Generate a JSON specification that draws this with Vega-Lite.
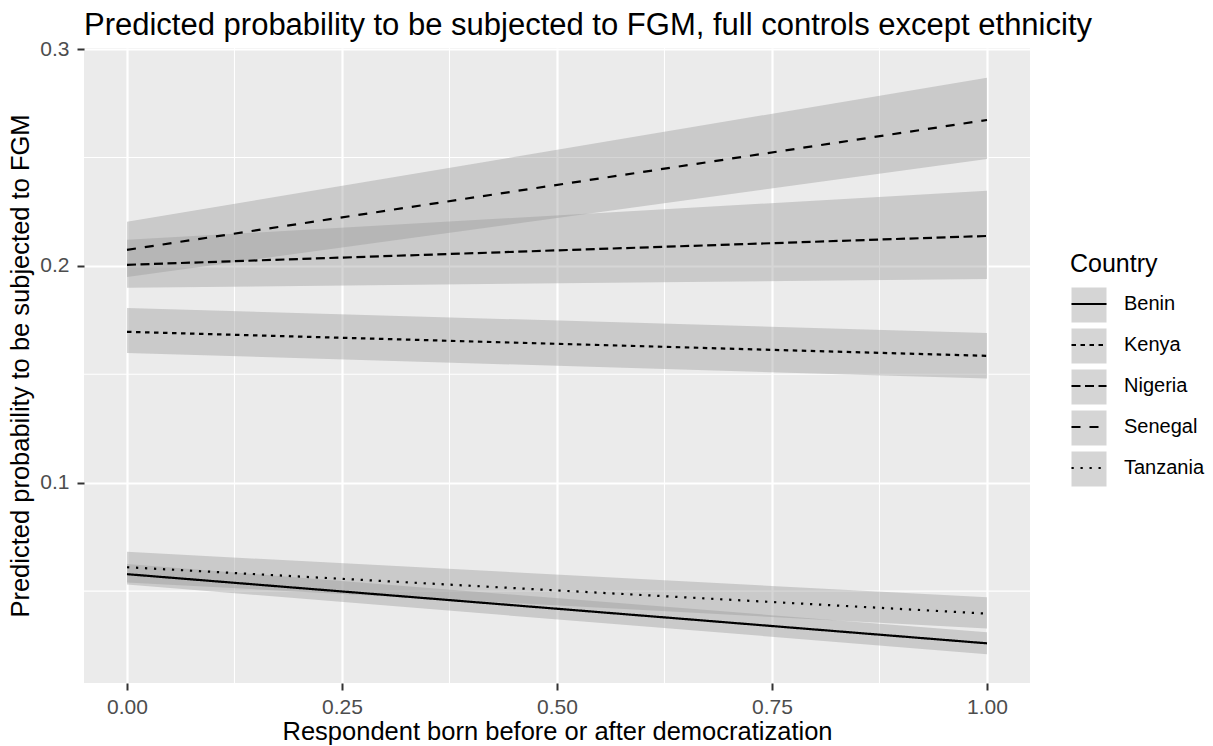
{
  "$schema": "https://vega.github.io/schema/vega-lite/v6.json",
  "width": 946,
  "height": 635,
  "autosize": "none",
  "padding": {"left": 84, "top": 48, "right": 183, "bottom": 63},
  "background": "white",
  "title": {
    "text": "Predicted probability to be subjected to FGM, full controls except ethnicity",
    "anchor": "start",
    "frame": "group",
    "fontSize": 31,
    "font": "Liberation Sans",
    "fontWeight": "normal",
    "color": "black",
    "baseline": "alphabetic",
    "offset": 0,
    "dy": 28
  },
  "datasets": {
    "bands": [
      {"Country": "Benin", "born": 0, "fit": 0.0578, "lo": 0.0530, "hi": 0.0625},
      {"Country": "Benin", "born": 1, "fit": 0.0259, "lo": 0.0209, "hi": 0.0310},
      {"Country": "Kenya", "born": 0, "fit": 0.1696, "lo": 0.1598, "hi": 0.1806},
      {"Country": "Kenya", "born": 1, "fit": 0.1585, "lo": 0.1480, "hi": 0.1690},
      {"Country": "Nigeria", "born": 0, "fit": 0.2005, "lo": 0.1899, "hi": 0.2120},
      {"Country": "Nigeria", "born": 1, "fit": 0.2138, "lo": 0.1940, "hi": 0.2346},
      {"Country": "Senegal", "born": 0, "fit": 0.2074, "lo": 0.1949, "hi": 0.2203},
      {"Country": "Senegal", "born": 1, "fit": 0.2673, "lo": 0.2493, "hi": 0.2868},
      {"Country": "Tanzania", "born": 0, "fit": 0.0610, "lo": 0.0540, "hi": 0.0681},
      {"Country": "Tanzania", "born": 1, "fit": 0.0396, "lo": 0.0327, "hi": 0.0471}
    ],
    "minorx": [{"v": 0.125}, {"v": 0.375}, {"v": 0.625}, {"v": 0.875}],
    "minory": [{"v": 0.05}, {"v": 0.15}, {"v": 0.25}]
  },
  "layer": [
    {
      "data": {"name": "minorx"},
      "mark": {"type": "rule", "stroke": "white", "strokeWidth": 1.1},
      "encoding": {
        "x": {
          "field": "v", "type": "quantitative",
          "scale": {"domain": [-0.05, 1.05], "nice": false, "zero": false},
          "axis": {"values": [0, 0.25, 0.5, 0.75, 1], "format": ".2f", "labelPadding": 6, "titlePadding": 2, "title": "Respondent born before or after democratization", "labelFlush": false}
        }
      }
    },
    {
      "data": {"name": "minory"},
      "mark": {"type": "rule", "stroke": "white", "strokeWidth": 1.1},
      "encoding": {
        "y": {
          "field": "v", "type": "quantitative",
          "scale": {"domain": [0.0076, 0.3005], "nice": false, "zero": false},
          "axis": {"values": [0.1, 0.2, 0.3], "format": ".1f", "labelPadding": 8, "titlePadding": 6, "title": "Predicted probability to be subjected to FGM"}
        }
      }
    },
    {
      "data": {"name": "bands"},
      "mark": {"type": "area", "opacity": 0.4},
      "encoding": {
        "x": {
          "field": "born", "type": "quantitative",
          "scale": {"domain": [-0.05, 1.05], "nice": false, "zero": false},
          "axis": {"values": [0, 0.25, 0.5, 0.75, 1], "format": ".2f", "labelPadding": 6, "titlePadding": 2, "title": "Respondent born before or after democratization", "labelFlush": false}
        },
        "y": {
          "field": "lo", "type": "quantitative",
          "scale": {"domain": [0.0076, 0.3005], "nice": false, "zero": false},
          "axis": {"values": [0.1, 0.2, 0.3], "format": ".1f", "labelPadding": 8, "titlePadding": 6, "title": "Predicted probability to be subjected to FGM"}
        },
        "y2": {"field": "hi"},
        "fill": {
          "field": "Country", "type": "nominal",
          "scale": {"range": ["#999999", "#999999", "#999999", "#999999", "#999999"]},
          "legend": {
            "orient": "none", "legendX": 986, "legendY": 238,
            "title": null, "labelExpr": "''",
            "symbolType": "M-1,-1H1V1H-1Z", "symbolSize": 1225,
            "symbolStrokeWidth": 2.2, "symbolStrokeColor": "transparent", "symbolOpacity": 0.4,
            "rowPadding": -7, "labelOffset": 16
          }
        }
      }
    },
    {
      "data": {"name": "bands"},
      "mark": {"type": "line", "color": "black", "strokeWidth": 2.2},
      "encoding": {
        "x": {
          "field": "born", "type": "quantitative",
          "scale": {"domain": [-0.05, 1.05], "nice": false, "zero": false},
          "axis": {"values": [0, 0.25, 0.5, 0.75, 1], "format": ".2f", "labelPadding": 6, "titlePadding": 2, "title": "Respondent born before or after democratization", "labelFlush": false}
        },
        "y": {
          "field": "fit", "type": "quantitative",
          "scale": {"domain": [0.0076, 0.3005], "nice": false, "zero": false},
          "axis": {"values": [0.1, 0.2, 0.3], "format": ".1f", "labelPadding": 8, "titlePadding": 6, "title": "Predicted probability to be subjected to FGM"}
        },
        "strokeDash": {
          "field": "Country", "type": "nominal",
          "scale": {
            "domain": ["Benin", "Kenya", "Nigeria", "Senegal", "Tanzania"],
            "range": [[1, 0], [4.5, 4.5], [9, 4.5], [9, 9], [2.25, 6.75]]
          },
          "legend": {
            "orient": "none", "legendX": 986, "legendY": 204,
            "title": "Country",
            "symbolType": "M-1,-1M-1,0L1,0M1,1", "symbolSize": 1225,
            "symbolStrokeWidth": 2.2, "symbolStrokeColor": "black", "symbolFillColor": "transparent",
            "rowPadding": -7, "titlePadding": 8, "labelOffset": 16
          }
        }
      }
    }
  ],
  "config": {
    "font": "Liberation Sans",
    "view": {"fill": "#ebebeb", "stroke": null},
    "axis": {
      "domain": false, "grid": true, "gridColor": "white", "gridWidth": 2.2,
      "tickColor": "#333333", "tickSize": 7, "tickWidth": 2,
      "labelColor": "#4d4d4d", "labelFontSize": 21, "labelFont": "Liberation Sans",
      "titleFontSize": 25.5, "titleColor": "black", "titleFontWeight": "normal", "titleFont": "Liberation Sans"
    },
    "legend": {
      "labelFontSize": 20, "titleFontSize": 25, "titleFontWeight": "normal",
      "labelColor": "black", "titleColor": "black", "padding": 0,
      "labelFont": "Liberation Sans", "titleFont": "Liberation Sans"
    }
  }
}
